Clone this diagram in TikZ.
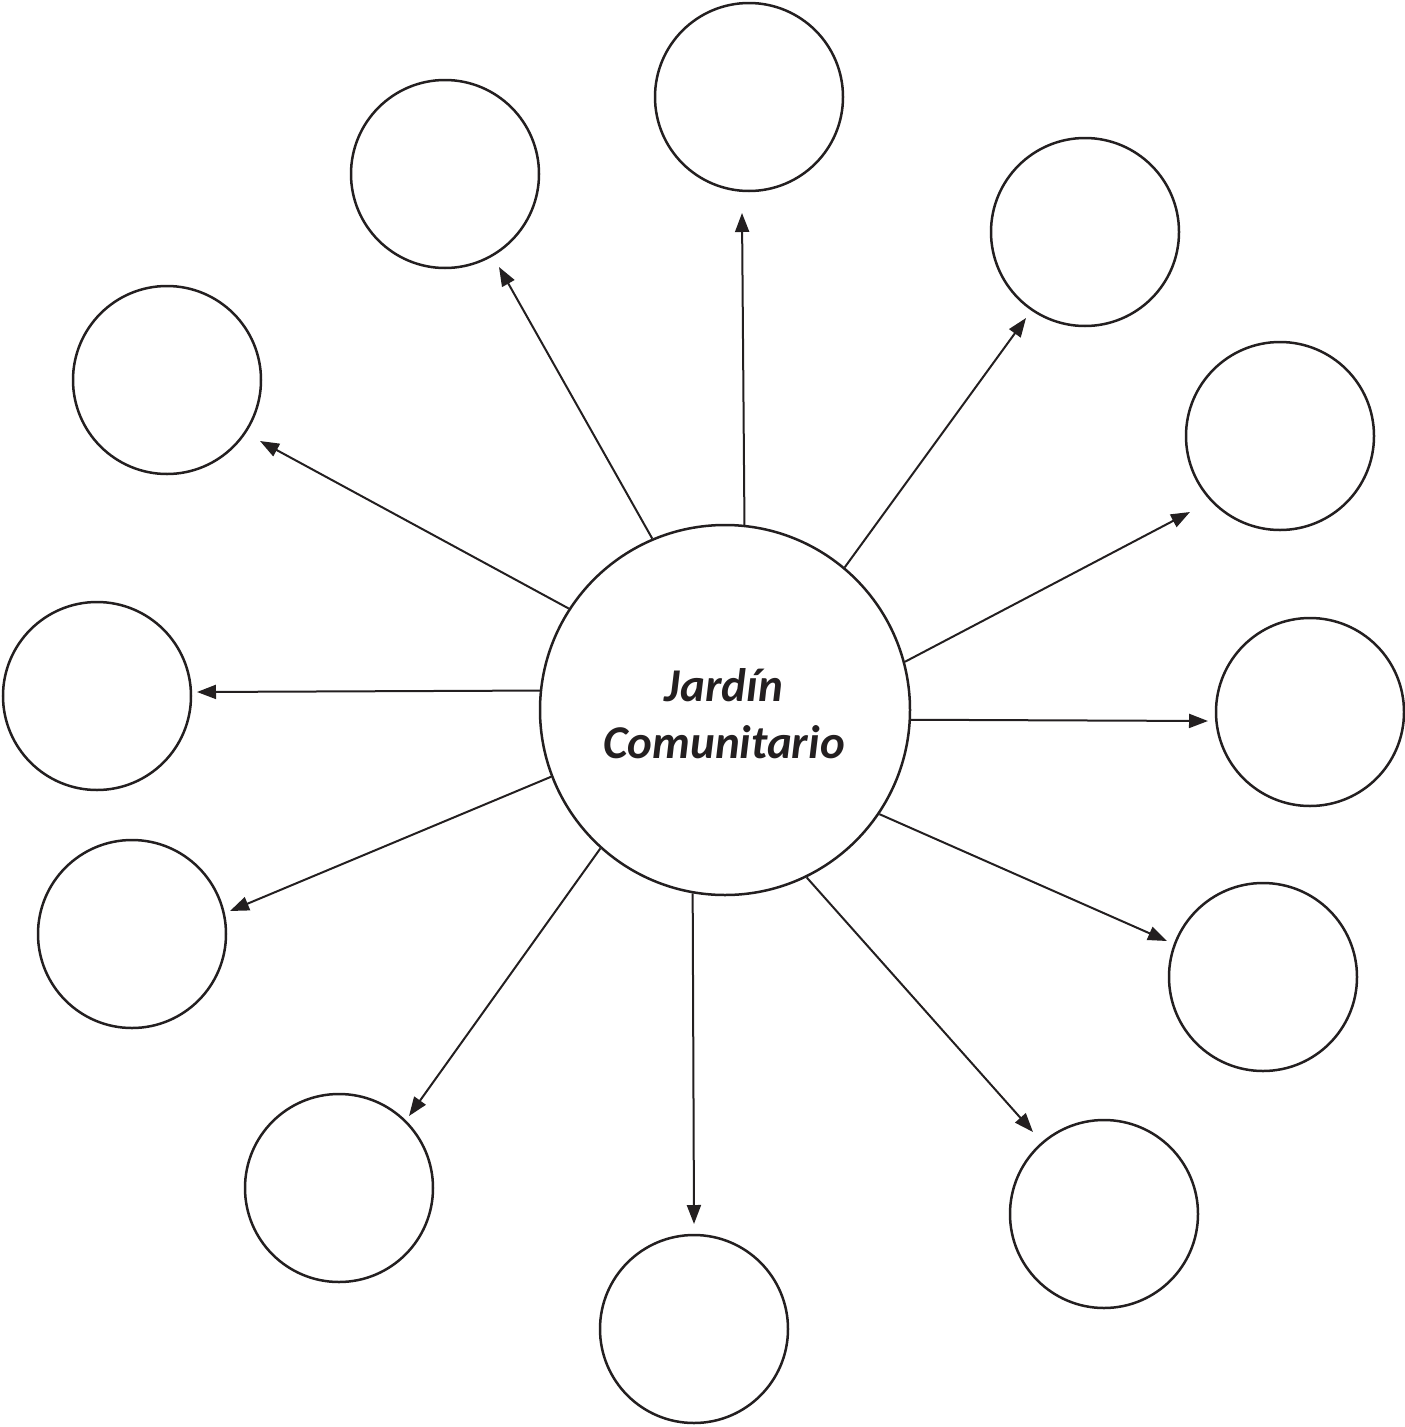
\documentclass[tikz,border=0pt]{standalone}
\usepackage{fontspec}
\setmainfont{Carlito}
\usetikzlibrary{arrows.meta}
\definecolor{ink}{HTML}{231F20}
\begin{document}
\begin{tikzpicture}[x=1pt,y=-1pt,
  outer/.style={circle,draw=ink,line width=2.5pt,minimum size=188pt,inner sep=0pt},
  hub/.style={circle,draw=ink,line width=2.5pt,minimum size=370pt,inner sep=0pt},
  arr/.style={draw=ink,line width=2pt,-{Triangle[length=19pt,width=14pt]}},
  lbl/.style={text=ink,font=\fontsize{47}{57}\selectfont\bfseries\itshape,align=center}]
\useasboundingbox (0,0) rectangle (1405,1427);
\node[hub] (c) at (725,710) {};
\node[lbl] (t) at (724,714) {Jardín\\Comunitario};
\node[outer] (o1) at (749,97) {};
\node[outer] (o2) at (445,174) {};
\node[outer] (o3) at (1085,232) {};
\node[outer] (o4) at (167,380) {};
\node[outer] (o5) at (1280,436) {};
\node[outer] (o6) at (97,696) {};
\node[outer] (o7) at (1310,712) {};
\node[outer] (o8) at (132,934) {};
\node[outer] (o9) at (1263,977) {};
\node[outer] (o10) at (339,1188) {};
\node[outer] (o11) at (1104,1214) {};
\node[outer] (o12) at (694,1329) {};
\coordinate (e1) at (742,213);
\coordinate (e2) at (499,267);
\coordinate (e3) at (1026,318);
\coordinate (e4) at (260,441);
\coordinate (e5) at (1190,512);
\coordinate (e6) at (197,692);
\coordinate (e7) at (1208,721);
\coordinate (e8) at (230,911);
\coordinate (e9) at (1167,941);
\coordinate (e10) at (409,1116);
\coordinate (e11) at (1033,1132);
\coordinate (e12) at (694,1224);
\draw[arr] (c.84.7) -- (e1);
\draw[arr] (c.113.9) -- (e2);
\draw[arr] (c.50.7) -- (e3);
\draw[arr] (c.147.9) -- (e4);
\draw[arr] (c.15.6) -- (e5);
\draw[arr] (c.174.4) -- (e6);
\draw[arr] (c.-3.4) -- (e7);
\draw[arr] (c.201.3) -- (e8);
\draw[arr] (c.-34.5) -- (e9);
\draw[arr] (c.228.5) -- (e10);
\draw[arr] (c.-64.8) -- (e11);
\draw[arr] (c.260.5) -- (e12);
\end{tikzpicture}
\end{document}
